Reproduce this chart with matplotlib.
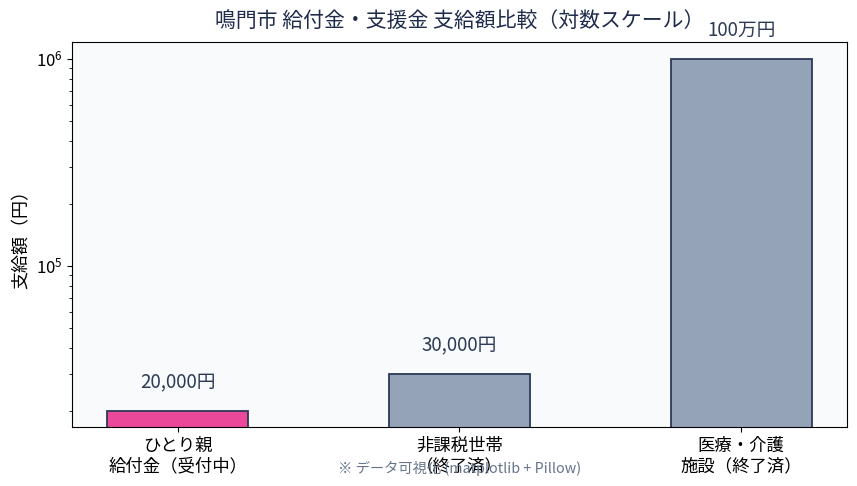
import matplotlib
matplotlib.use("Agg")
import matplotlib.pyplot as plt

plt.rcParams['font.family'] = ['Noto Sans CJK JP', 'DejaVu Sans']

categories = ['ひとり親\n給付金（受付中）', '非課税世帯\n（終了済）', '医療・介護\n施設（終了済）']
amounts = [20000, 30000, 1000000]
value_labels = ['20,000円', '30,000円', '100万円']
bar_colors = ['#ec4899', '#94a3b8', '#94a3b8']

navy = '#1e2b4a'

fig, ax = plt.subplots(figsize=(8.57, 4.86), dpi=100)
fig.subplots_adjust(left=0.084, right=0.988, top=0.913, bottom=0.121)
ax.set_facecolor('#f8fafc')

x = range(len(categories))
ax.bar(x, amounts, width=0.5, color=bar_colors, edgecolor='#2b3a55', linewidth=1.3)
ax.set_yscale('log')
ax.set_ylim(min(amounts) / 1.2, max(amounts) * 1.2)

for i, (v, lab) in enumerate(zip(amounts, value_labels)):
    ax.text(i, v * 1.22, lab, ha='center', va='bottom', fontsize=13.5, color='#2b3a55')

ax.set_xticks(list(x))
ax.set_xticklabels(categories, fontsize=12.5)
ax.tick_params(axis='y', labelsize=12)
ax.set_ylabel('支給額（円）', fontsize=13)
ax.set_title('鳴門市 給付金・支援金 支給額比較（対数スケール）', fontsize=15, color=navy, pad=11)

ax.text(0.5, -0.107, '※ データ可視化 (matplotlib + Pillow)', transform=ax.transAxes,
        ha='center', va='center', fontsize=10.3, color='#64748b')

fig.savefig('out.png', dpi=100)
